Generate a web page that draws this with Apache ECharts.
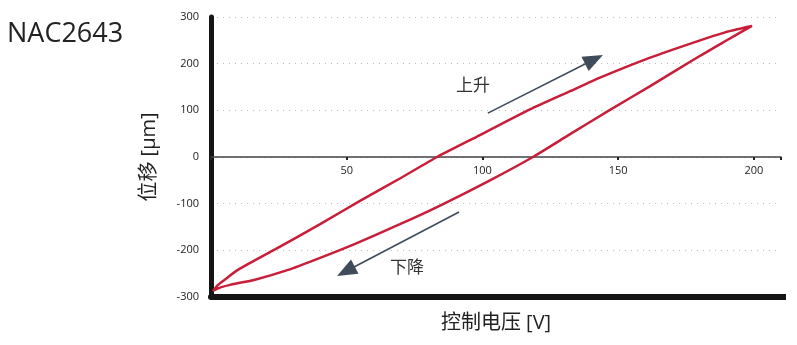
<!DOCTYPE html>
<html>
<head>
<meta charset="utf-8">
<script src="https://cdn.jsdelivr.net/npm/echarts@6/dist/echarts.min.js"></script>
<style>html,body{margin:0;padding:0;background:#fff}#c{width:797px;height:345px}</style>
</head>
<body>
<div id="c"></div>
<script>
const titleText = 'NAC2643';
const xName = '控制电压 [V]';
const yName = '位移 [µm]';
const xTicks = [50, 100, 150, 200];
const yTicks = [-300, -200, -100, 0, 100, 200, 300];

// branch 1 (lower-left to tip, upper curve)
const branch1X = [0.7, 2.6, 4.8, 9.9, 23.6, 40.2, 54.9, 69.6, 83.3, 99.1, 117.5, 132.3, 143.3, 161.8, 180.2, 189.4, 194.9, 199.3];
const branch1Y = [-287, -274, -264, -242, -198, -144, -94, -46, 0, 47, 102, 141, 170, 213, 250, 267, 275, 281];
// branch 2 (tip back to lower-left, lower curve)
const branch2X = [199.3, 189.4, 180.2, 161.8, 147, 132.3, 118.6, 102.8, 84.4, 69.6, 53.1, 40.2, 28.4, 16.2, 7, 3.3, 0.7];
const branch2Y = [281, 248, 217, 152, 101, 49, 0, -50, -104, -144, -186, -216, -242, -263, -274, -280, -287];

const riseLabel = '上升';
const fallLabel = '下降';
const riseArrow = [[102, 94], [141.1, 209]];
const fallArrow = [[91.4, -118], [49.7, -245]];
const riseLabelPos = [96.5, 152];
const fallLabelPos = [72.2, -238];

const loop = [];
branch1X.forEach((x, i) => loop.push([x, branch1Y[i]]));
branch2X.forEach((x, i) => loop.push([x, branch2Y[i]]));

const FONT = '"Open Sans", "Noto Sans CJK SC", sans-serif';
const chart = echarts.init(document.getElementById('c'), null, {renderer: 'canvas'});
chart.setOption({
  animation: false,
  backgroundColor: '#fff',
  title: {text: titleText, left: 2, top: 16, textStyle: {fontFamily: FONT, fontSize: 27, fontWeight: 'normal', color: '#222'}},
  grid: {left: 211, right: 16, top: 17, bottom: 48, containLabel: false, outerBoundsMode: 'none'},
  xAxis: [
    {
      type: 'value', min: 0, max: 210, interval: 50, position: 'bottom', offset: -140,
      axisLine: {onZero: false, lineStyle: {color: '#444', width: 1.5}},
      axisTick: {show: true, length: 3, lineStyle: {color: '#222', width: 2}},
      axisLabel: {fontFamily: FONT, fontSize: 11, color: '#222', margin: 8,
        formatter: v => xTicks.indexOf(v) >= 0 ? String(v) : ''},
      splitLine: {show: false}
    },
    {
      type: 'value', min: 0, max: 210, position: 'bottom', offset: 0,
      axisLine: {onZero: false, symbol: ['none', 'rect'], symbolSize: [6, 10], lineStyle: {color: '#151515', width: 6}},
      axisTick: {show: false}, axisLabel: {show: false}, splitLine: {show: false},
      name: xName, nameLocation: 'middle', nameGap: 16,
      nameTextStyle: {fontFamily: FONT, fontSize: 20, color: '#222'}
    }
  ],
  yAxis: {
    type: 'value', min: -300, max: 300, interval: 100,
    axisLine: {show: true, onZero: false, lineStyle: {color: '#151515', width: 5}},
    axisTick: {show: false},
    axisLabel: {fontFamily: FONT, fontSize: 11, color: '#222', margin: 12,
      formatter: v => yTicks.indexOf(v) >= 0 ? String(v) : ''},
    splitLine: {show: true, lineStyle: {color: '#bbb', type: [1, 5], width: 1.2}},
    name: yName, nameLocation: 'middle', nameGap: 52, nameRotate: 90,
    nameTextStyle: {fontFamily: FONT, fontSize: 20, color: '#222'}
  },
  series: [
    {
      type: 'line', xAxisIndex: 0, data: loop, smooth: 0.2, showSymbol: false,
      lineStyle: {color: '#c81e3a', width: 2.5}, z: 3
    },
    {
      type: 'line', xAxisIndex: 0, data: [], showSymbol: false,
      markLine: {
        silent: true, symbol: ['none', 'triangle'], symbolSize: [16, 20],
        lineStyle: {color: '#3f4b59', width: 1.6, type: 'solid'},
        label: {show: false},
        data: [
          [{coord: riseArrow[0]}, {coord: riseArrow[1]}],
          [{coord: fallArrow[0]}, {coord: fallArrow[1]}]
        ]
      },
      markPoint: {
        silent: true, symbol: 'circle', symbolSize: 0,
        label: {show: true, position: 'inside', fontFamily: FONT, fontSize: 17, color: '#333',
          formatter: p => p.name},
        data: [
          {name: riseLabel, coord: riseLabelPos},
          {name: fallLabel, coord: fallLabelPos}
        ]
      }
    }
  ]
});
</script>
</body>
</html>
